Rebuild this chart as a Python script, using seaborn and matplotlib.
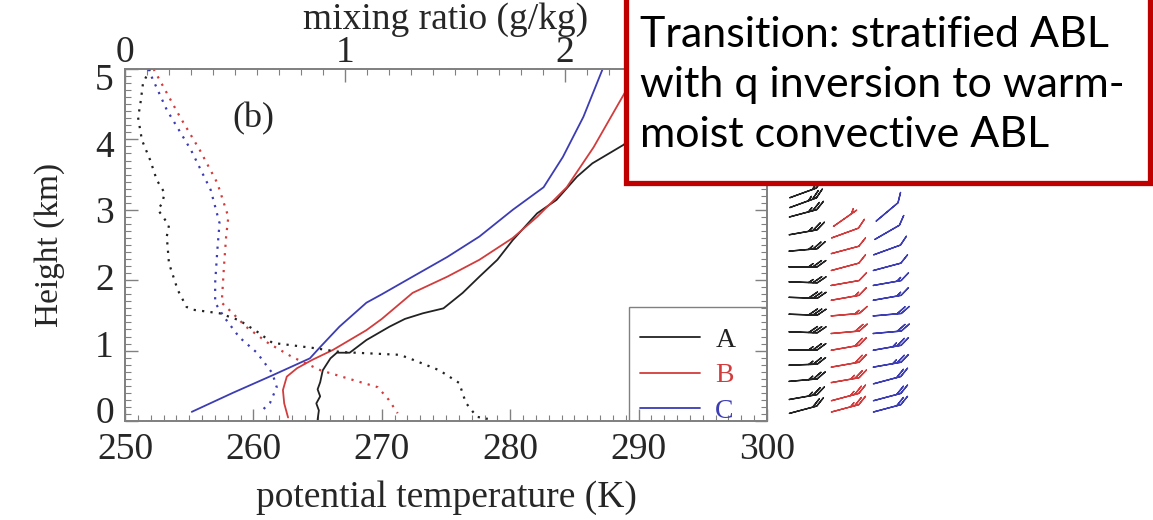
import matplotlib
matplotlib.use('Agg')
import matplotlib.pyplot as plt
import matplotlib.transforms as mtransforms
import seaborn as sns
import numpy as np
from matplotlib.patches import Rectangle
from matplotlib.ticker import MultipleLocator
from matplotlib.lines import Line2D

# ---------------- data ----------------
series_names = ['A', 'B', 'C']
series_colors = ['#222222', '#d23c3c', '#3c3cb4']

# potential temperature profiles (K) vs height (km)
theta_A = [265.0, 265.1, 264.9, 265.2, 265.0, 265.2, 265.4, 266.0, 266.5, 267.5, 268.8, 270.6,
           271.8, 273.2, 274.8, 276.3, 277.6, 279.0, 280.2, 280.8, 282.1, 283.6, 285.2, 286.4,
           288.8, 291.5, 294.0]
height_A = [0.02, 0.15, 0.25, 0.35, 0.45, 0.55, 0.72, 0.89, 0.97, 0.97, 1.15, 1.34,
            1.45, 1.53, 1.60, 1.82, 2.05, 2.29, 2.57, 2.69, 2.95, 3.14, 3.47, 3.66,
            3.92, 4.30, 4.70]
theta_B = [262.7, 262.4, 262.3, 262.6, 263.4, 264.6, 266.2, 268.8, 270.0, 272.4, 275.1,
           277.6, 280.2, 282.1, 284.4, 286.5, 288.6, 290.0]
height_B = [0.05, 0.25, 0.44, 0.63, 0.75, 0.87, 1.01, 1.29, 1.45, 1.82, 2.05,
            2.29, 2.60, 2.90, 3.32, 3.89, 4.56, 5.00]
theta_C = [255.2, 258.4, 261.5, 264.4, 265.2, 266.7, 268.8, 270.0, 272.4, 275.1, 277.6,
           280.2, 282.6, 284.1, 285.7, 287.2]
height_C = [0.13, 0.40, 0.65, 0.89, 1.05, 1.34, 1.68, 1.80, 2.05, 2.33, 2.62,
            3.00, 3.32, 3.75, 4.32, 5.00]

# mixing ratio profiles (g/kg) vs height (km)
q_A = [0.114, 0.082, 0.068, 0.059, 0.077, 0.114, 0.145, 0.18, 0.17, 0.15, 0.20, 0.19, 0.20,
       0.24, 0.28, 0.31, 0.43, 0.52, 0.61, 0.67, 0.85, 0.98, 1.25, 1.31, 1.43, 1.52, 1.55,
       1.60, 1.65]
qh_A = [5.0, 4.80, 4.46, 4.32, 3.99, 3.71, 3.42, 3.24, 3.10, 3.00, 2.78, 2.62, 2.24,
        1.86, 1.62, 1.58, 1.53, 1.43, 1.25, 1.11, 1.04, 0.98, 0.94, 0.87, 0.72, 0.54, 0.26,
        0.06, 0.03]
q_B = [0.13, 0.25, 0.34, 0.42, 0.47, 0.46, 0.45, 0.44, 0.49, 0.55, 0.65, 0.76, 0.89, 1.04,
       1.15, 1.20, 1.24]
qh_B = [5.0, 4.32, 3.85, 3.38, 2.90, 2.62, 2.19, 1.68, 1.53, 1.34, 1.11, 0.91, 0.72, 0.58,
        0.48, 0.30, 0.11]
q_C = [0.105, 0.19, 0.30, 0.39, 0.43, 0.42, 0.41, 0.41, 0.45, 0.52, 0.60, 0.67, 0.69, 0.66,
       0.61]
qh_C = [5.0, 4.42, 3.85, 3.28, 2.81, 2.43, 1.96, 1.68, 1.48, 1.19, 0.97, 0.68, 0.48, 0.26,
        0.11]

# wind barbs: heights (km), speed (kt), direction wind comes from (deg)
barb_h_A = [0.16, 0.34, 0.58, 0.80, 1.01, 1.26, 1.51, 1.75, 1.97, 2.19, 2.43, 2.68, 2.95, 3.10, 3.24]
barb_spd_A = [20, 25, 25, 25, 25, 30, 30, 30, 25, 25, 25, 25, 25, 25, 20]
barb_dir_A = [75, 80, 85, 88, 90, 92, 92, 92, 92, 90, 85, 80, 75, 70, 70]
barb_h_B = [0.18, 0.34, 0.58, 0.80, 1.04, 1.26, 1.51, 1.75, 1.96, 2.19, 2.43, 2.67, 2.88]
barb_spd_B = [25, 25, 25, 20, 20, 20, 15, 15, 10, 10, 10, 10, 5]
barb_dir_B = [75, 75, 80, 80, 80, 85, 85, 80, 80, 75, 75, 70, 55]
barb_h_C = [0.18, 0.34, 0.58, 0.80, 1.04, 1.26, 1.51, 1.75, 1.96, 2.19, 2.43, 2.68, 2.97]
barb_spd_C = [20, 20, 20, 25, 25, 20, 20, 15, 15, 10, 10, 10, 10]
barb_dir_C = [75, 75, 75, 80, 80, 85, 85, 80, 80, 75, 70, 60, 50]

x_ticks = [250, 260, 270, 280, 290, 300]
y_ticks = [0, 1, 2, 3, 4, 5]
q_ticks = [0, 1, 2]

# ---------------- style ----------------
sns.set_theme(style='white')
plt.rcParams['font.family'] = ['Liberation Serif', 'DejaVu Serif']
plt.rcParams['axes.edgecolor'] = '#808080'

W, H = 1153, 520
fig = plt.figure(figsize=(W / 100, H / 100), dpi=100)
fig.patch.set_facecolor('white')

L, R, B, T = 125, 767, 421, 69
ax = fig.add_axes([L / W, 1 - B / H, (R - L) / W, (B - T) / H])
ax.set_facecolor('white')

thetas = [(theta_A, height_A), (theta_B, height_B), (theta_C, height_C)]
for (xv, yv), name, col in zip(thetas, series_names, series_colors):
    sns.lineplot(x=xv, y=yv, sort=False, estimator=None, color=col, lw=1.3, ax=ax)

ax.set_xlim(250, 300)
ax.set_ylim(0, 5)
ax.set_xticks(x_ticks)
ax.set_yticks(y_ticks)
ax.xaxis.set_minor_locator(MultipleLocator(1))
ax.yaxis.set_minor_locator(MultipleLocator(0.1))
ax.tick_params(which='both', direction='in', top=False, right=True, left=True, bottom=True,
               color='#808080', labelsize=27, pad=8)
ax.tick_params(which='major', length=9, width=1)
ax.tick_params(which='minor', length=4, width=0.8)
ax.set_xlabel('potential temperature (K)', fontsize=27, labelpad=10)
ax.set_ylabel('Height (km)', fontsize=24, labelpad=22)
for s in ax.spines.values():
    s.set_linewidth(1.2)
# y tick labels sit slightly toward the centre of the axis (as in the original)
ylabs = ax.get_yticklabels()
for i, lab in enumerate(ylabs):
    dy = (11 - 19 * i / 5) / 100.0
    lab.set_transform(lab.get_transform() + mtransforms.ScaledTranslation(0, dy, fig.dpi_scale_trans))

ax2 = ax.twiny()
qs = [(q_A, qh_A), (q_B, qh_B), (q_C, qh_C)]
for (xv, yv), col in zip(qs, series_colors):
    sns.lineplot(x=xv, y=yv, sort=False, estimator=None, color=col, lw=1.6,
                 dashes=False, ax=ax2)
for ln in ax2.lines:
    ln.set_linestyle((0, (1, 2.8)))
ax2.set_xlim(0, 2.92)
ax2.set_ylim(0, 5)
ax2.set_xticks(q_ticks)
ax2.xaxis.set_minor_locator(MultipleLocator(0.1))
ax2.tick_params(which='both', direction='in', color='#808080', labelsize=27, pad=-1)
ax2.tick_params(which='major', length=9, width=1)
ax2.tick_params(which='minor', length=4, width=0.8)
ax2.set_xlabel('mixing ratio (g/kg)', fontsize=27, labelpad=5)

ax.text(260.0, 4.30, '(b)', fontsize=26, ha='center', va='center')

# legend (entries without frame, frame drawn as a box reaching the bottom axis)
handles = [Line2D([], [], color=c, lw=1.3) for c in series_colors]
leg = ax.legend(handles, series_names, loc='lower left',
                bbox_to_anchor=(0.785, -0.04, 0.215, 0.324), mode='expand', borderaxespad=0,
                fontsize=20, handlelength=2.15, handletextpad=0.55, labelspacing=0.36,
                borderpad=0.41, frameon=False, labelcolor=series_colors)
ax.add_patch(Rectangle((0.785, 0.0), 0.215, 0.324, transform=ax.transAxes, fill=False,
                       edgecolor='#808080', linewidth=1.0, zorder=5))

# wind barbs axes
bax = fig.add_axes([775 / W, 1 - B / H, (930 - 775) / W, (B - T) / H])
bax.set_xlim(-0.667, 3.02)
bax.set_ylim(0, 5)
bax.axis('off')
barbs = [(barb_h_A, barb_spd_A, barb_dir_A), (barb_h_B, barb_spd_B, barb_dir_B),
         (barb_h_C, barb_spd_C, barb_dir_C)]
for i, ((hh, sp, dr), col) in enumerate(zip(barbs, series_colors)):
    sp = np.array(sp, float)
    dr = np.radians(np.array(dr, float))
    u = -sp * np.sin(dr)
    v = -sp * np.cos(dr)
    bax.barbs(np.full(len(hh), i), hh, u, v, color=col, length=6.4, pivot='middle',
              linewidth=1.0, flip_barb=True,
              sizes=dict(height=0.22, width=0.6, spacing=0.15))

# annotation box (overlay)
rect = Rectangle((626 / W, 1 - 183 / H), (1150 - 626) / W, 0.5, transform=fig.transFigure,
                 facecolor='white', edgecolor='#c00000', linewidth=3.8, zorder=10)
fig.patches.append(rect)
box_lines = ['Transition: stratified ABL', 'with q inversion to warm-', 'moist convective ABL']
for k, txt in enumerate(box_lines):
    fig.text(640 / W, 1 - (35 + 50 * k) / H, txt, fontsize=31, family=['Lato', 'DejaVu Sans'],
             ha='left', va='center', color='black', zorder=11)

fig.savefig('out.png', dpi=100, facecolor='white')
